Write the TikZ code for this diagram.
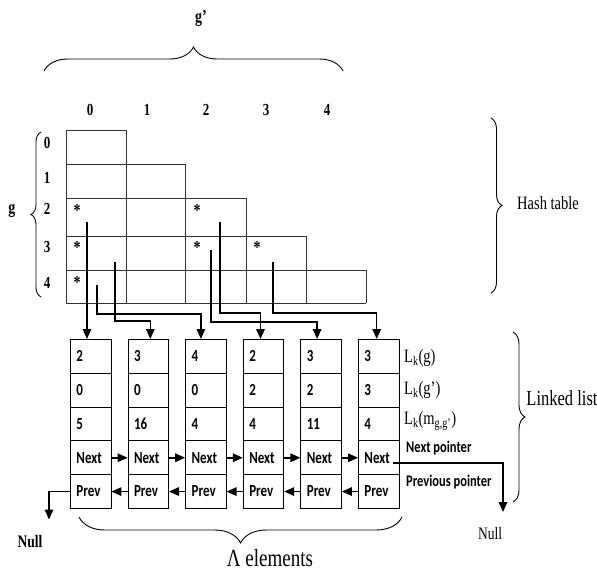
\documentclass[tikz,border=0pt]{standalone}
\usepackage{fontspec}
\usepackage{graphicx}
\setmainfont{Liberation Serif}
\newfontfamily\cfont{Carlito}
\usetikzlibrary{arrows.meta,decorations.pathreplacing}
\newcommand\vst[1]{\scalebox{1}[1.3]{#1}}
\tikzset{
  tline/.style={line width=0.9pt, draw=black!80},
  cell/.style={draw, line width=0.9pt, minimum width=40.5pt, minimum height=33.8pt,
    inner xsep=6pt, inner ysep=0pt, text width=28.5pt, align=left, anchor=north west,
    font={\cfont\bfseries\fontsize{13}{15}\selectfont}},
  conn/.style={line width=1.5pt, -{Triangle[length=10pt,width=8.5pt]}},
  brc/.style={decorate, decoration={brace, amplitude=#1}, line width=0.9pt},
  hdr/.style={inner sep=0pt, font={\bfseries\fontsize{13}{15}\selectfont}},
  star/.style={inner sep=0pt, font={\bfseries\fontsize{14}{16}\selectfont}},
  lbl/.style={inner sep=0pt, anchor=west, font={\fontsize{14.5}{16}\selectfont}},
  slbl/.style={inner sep=0pt, anchor=west, font={\cfont\bfseries\fontsize{12.5}{14}\selectfont}},
}
\begin{document}
\begin{tikzpicture}[x=1pt,y=-1pt]
\useasboundingbox (0,0) rectangle (597,571);
% hash table
\draw[tline] (66,130) -- (126,130) -- (126,303);
\draw[tline] (66,164) -- (185,164) -- (185,303);
\draw[tline] (66,198) -- (246,198) -- (246,303);
\draw[tline] (66,236) -- (306,236) -- (306,303);
\draw[tline] (66,270) -- (366,270) -- (366,303);
\draw[tline] (66,130) -- (66,303) -- (366,303);
% headers
\foreach \t/\x in {0/90,1/147,2/206,3/266,4/327}
  \node[hdr] (col\t) at (\x,110) {\vst{\t}};
\foreach \t/\y in {0/143,1/178,2/209,3/247,4/283}
  \node[hdr] (row\t) at (47,\y) {\vst{\t}};
\node[hdr, font={\bfseries\fontsize{14}{16}\selectfont}] (gp) at (201,18) {\vst{g’}};
\node[hdr, font={\bfseries\fontsize{14}{16}\selectfont}] (g) at (12,211) {\vst{g}};
% stars
\node[star] (s20) at (77,210) {\vst{*}};
\node[star] (s22) at (197,210) {\vst{*}};
\node[star] (s30) at (77,247) {\vst{*}};
\node[star] (s32) at (197,247) {\vst{*}};
\node[star] (s33) at (257,247) {\vst{*}};
\node[star] (s40) at (77,282) {\vst{*}};
% linked list cells
\foreach \i/\a/\b/\c in {1/2/0/5, 2/3/0/16, 3/4/0/4, 4/2/2/4, 5/3/2/11, 6/3/3/4}
  \foreach \t [count=\j] in {\a,\b,\c,Next,Prev}
    \node[cell] (c\i-\j) at ({70+57.6*(\i-1)}, {339+33.8*(\j-1)}) {\vst{\t}};
% next / prev arrows
\foreach \i [evaluate=\i as \k using int(\i+1)] in {1,...,5} {
  \draw[conn] (c\i-4.east) -- (c\k-4.west);
  \draw[conn] (c\k-5.west) -- (c\i-5.east);
}
% pointer start coordinates
\coordinate (pA) at (87,222);
\coordinate (pB) at (115,262);
\coordinate (pC) at (97,285);
\coordinate (pD) at (220,222);
\coordinate (pE) at (211,250);
\coordinate (pF) at (273,262);
\draw[conn] (pA) -- (pA |- c1-1.north);
\draw[conn] (pB) -- ++(0,59) -| ([xshift=2pt]c2-1.north);
\draw[conn] (pC) -- ++(0,29) -| ([xshift=-5pt]c3-1.north);
\draw[conn] (pD) -- ++(0,91) -| ([xshift=-3pt]c4-1.north);
\draw[conn] (pE) -- ++(0,72) -| ([xshift=-4pt]c5-1.north);
\draw[conn] (pF) -- ++(0,51) -| ([xshift=-2pt]c6-1.north);
% null arrows
\draw[conn] (c1-5.west) -- ++(-21,0) -- ++(0,28);
\coordinate (nxs) at (393,463);
\draw[conn] (nxs) -- ++(110,0) -- ++(0,49);
\node[hdr, font={\bfseries\fontsize{13.5}{15}\selectfont}] (nullL) at (30,542) {\vst{Null}};
\node[inner sep=0pt, font={\fontsize{13.5}{15}\selectfont}] (nullR) at (490,533) {\vst{Null}};
% labels right of list
\node[lbl] (l1) at (404,358) {\vst{L\textsubscript{k}(g)}};
\node[lbl] (l2) at (404,390) {\vst{L\textsubscript{k}(g')}};
\node[lbl] (l3) at (404,421) {\vst{L\textsubscript{k}(m\textsubscript{g,g'})}};
\node[slbl] (l4) at (406,448) {\vst{Next pointer}};
\node[slbl] (l5) at (406,482) {\vst{Previous pointer}};
% braces
\draw[brc=24] (44,71) -- (343,71);
\draw[brc=10] (41,297) -- (41,132);
\draw[brc=11] (491,118) -- (491,293);
\draw[brc=12] (513,332) -- (513,502);
\draw[brc=26] (402,517) -- (79,517);
\node[inner sep=0pt, font={\fontsize{14.5}{16}\selectfont}] (ht) at (548,203) {\vst{Hash table}};
\node[inner sep=0pt, font={\fontsize{16.5}{18}\selectfont}] (ll) at (562,398) {\vst{Linked list}};
\node[inner sep=0pt, font={\fontsize{19}{21}\selectfont}] (le) at (270,558) {\vst{Λ elements}};
\end{tikzpicture}
\end{document}
